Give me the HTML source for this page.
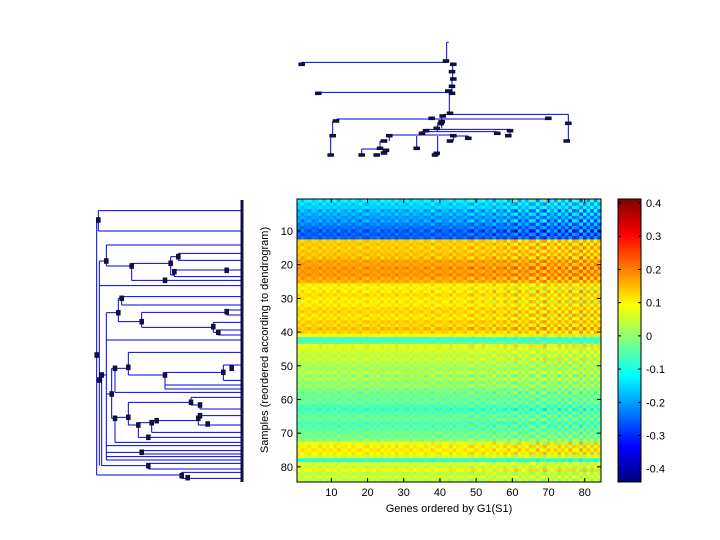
<!DOCTYPE html>
<html><head><meta charset="utf-8"><style>
body{margin:0;background:#fff;}
svg{display:block;font-family:"Liberation Sans",sans-serif;}
</style></head><body>
<svg id="c" width="720" height="540" viewBox="0 0 720 540">
<rect x="0" y="0" width="720" height="540" fill="#fff"/>
<g id="hm"></g>
<rect x="297" y="199" width="304" height="283" fill="none" stroke="#000" stroke-width="1"/>
<g id="xt"></g>
<g id="yt"></g>
<text x="449" y="512" font-size="11" text-anchor="middle">Genes ordered by G1(S1)</text>
<text transform="translate(268,340) rotate(-90)" font-size="11" text-anchor="middle">Samples (reordered according to dendrogram)</text>
<g id="cb"></g>
<g id="ld"></g>
<g id="td"></g>
</svg>
<script>
const NS="http://www.w3.org/2000/svg";
// ---- chart data ----
const rowValues=[-0.14,-0.15,-0.16,-0.18,-0.19,-0.2,-0.21,-0.22,-0.24,-0.25,-0.26,-0.25,
0.13,0.14,0.13,0.14,0.14,0.15,0.17,0.17,0.18,0.18,0.18,0.17,0.16,0.11,0.1,0.11,0.12,0.11,
0.1,0.11,0.12,0.13,0.11,0.12,0.13,0.13,0.14,0.13,0.08,-0.07,-0.06,0.09,0.06,0.05,0.04,0.05,
0.03,0.02,0.02,0.03,0.01,0.02,0.0,0.01,-0.01,-0.03,-0.02,-0.04,-0.03,-0.06,-0.07,-0.05,-0.04,-0.03,
-0.06,-0.05,-0.04,-0.03,-0.02,-0.01,0.08,0.1,0.11,0.1,0.06,-0.1,0.06,0.05,0.07,0.04,0.05,0.03];
const colOffsets=[0.02,-0.03,0.01,0.03,-0.02,0.0,0.04,-0.03,0.02,-0.01,0.03,-0.04,0.01,0.02,-0.02,0.03,
0.0,-0.03,0.02,0.04,-0.01,0.01,-0.03,0.03,0.0,0.02,-0.02,0.04,-0.01,0.01,0.03,-0.03,0.02,0.0,-0.02,0.03,
0.01,-0.04,0.02,0.03,-0.01,0.0,0.04,-0.03,0.02,0.01,-0.02,0.03,0.05,-0.03,0.01,0.04,-0.02,0.02,-0.05,0.03,
0.0,0.05,-0.04,0.03,0.06,-0.05,0.02,-0.03,0.05,0.04,-0.06,0.03,0.07,-0.05,0.02,-0.04,0.06,-0.03,0.04,-0.06,
0.05,0.03,-0.07,0.06,-0.04,0.05,-0.05,0.04];
const rowScale=[2,-1.5,1,-2,1.5,-1,2,-1.5,1,-2,1.5,-1,1,-1,1.5,-1,1,-1.5,1,-1,1.5,-1,1,-1.5,1,
-1,1,-1.5,1,-1,1.5,-1,1,-1,1.5,-1,1,-1,1.5,-1,1,-0.5,0.5,1,-1,1,-1,1.5,-1,1,-1,1,-1.5,1,-1,1,-1,1.5,
-1,1,-1,1,-1.5,1,-1,1,-1,1.5,-1,1,-1,1,-1.5,1,-1,1,-1,0.5,1,-1,1.5,-1,1,-1];
const xTicks=[10,20,30,40,50,60,70,80];
const yTicks=[10,20,30,40,50,60,70,80];
const cbTicks=[0.4,0.3,0.2,0.1,0,-0.1,-0.2,-0.3,-0.4];
// ---- scales ----
const X0=297,Y0=199,W=304,H=283,N=84,M=84;
const cw=W/N,ch=H/M;
const xs=k=>X0+(k-0.5)*cw, ys=k=>Y0+(k-0.5)*ch;
const vmin=-0.44,vmax=0.412;
function jet(v){let t=(v-vmin)/(vmax-vmin);t=Math.max(0,Math.min(1,t));
const c=x=>Math.round(255*Math.max(0,Math.min(1,1.5-Math.abs(x))));
return `rgb(${c(4*t-3)},${c(4*t-2)},${c(4*t-1)})`;}
function el(tag,attrs,parent){const e=document.createElementNS(NS,tag);for(const k in attrs)e.setAttribute(k,attrs[k]);parent.appendChild(e);return e;}
const hm=document.getElementById('hm');
for(let r=0;r<M;r++){for(let c=0;c<N;c++){
 const v=rowValues[r]+colOffsets[c]*rowScale[r]*0.55*(1+c/160);
 const e=el('rect',{x:(X0+c*cw).toFixed(2),y:(Y0+r*ch).toFixed(2),width:(cw+0.3).toFixed(2),height:(ch+0.3).toFixed(2),fill:jet(v)},hm);
 
 
}}
const xt=document.getElementById('xt');
xTicks.forEach(k=>{const x=xs(k);
 el('line',{x1:x,y1:Y0+H,x2:x,y2:Y0+H-4,stroke:'#000'},xt);
 el('line',{x1:x,y1:Y0,x2:x,y2:Y0+4,stroke:'#000'},xt);
 const t=el('text',{x:x,y:Y0+H+14,'font-size':11,'text-anchor':'middle'},xt);t.textContent=k;
 
 });
const yt=document.getElementById('yt');
yTicks.forEach(k=>{const y=ys(k);
 el('line',{x1:X0,y1:y,x2:X0+4,y2:y,stroke:'#000'},yt);
 el('line',{x1:X0+W,y1:y,x2:X0+W-4,y2:y,stroke:'#000'},yt);
 const t=el('text',{x:X0-4,y:y+4,'font-size':11,'text-anchor':'end'},yt);t.textContent=k;
 
 });
// colorbar
const cb=document.getElementById('cb');const CX=618,CW=23,CY=199,CH=283;
for(let i=0;i<CH;i++){const v=vmax-(i+0.5)/CH*(vmax-vmin);
 el('rect',{x:CX,y:CY+i,width:CW,height:1.2,fill:jet(v)},cb);}
el('rect',{x:CX,y:CY,width:CW,height:CH,fill:'none',stroke:'#000'},cb);
cbTicks.forEach(v=>{const y=CY+(vmax-v)/(vmax-vmin)*CH;
 el('line',{x1:CX,y1:y,x2:CX+3,y2:y,stroke:'#000'},cb);
 el('line',{x1:CX+CW,y1:y,x2:CX+CW-3,y2:y,stroke:'#000'},cb);
 const t=el('text',{x:CX+CW+5,y:y+4,'font-size':11},cb);t.textContent=(v===0?'0':v.toFixed(1));
 
 });
// left dendrogram (zoom coords -> original)
const ld=document.getElementById('ld');
const L=(x)=>85+x/3, Ly=(y)=>195+y/3;
const lsegs=[
['V',40,47,108],['H',40,470,47],['H',40,470,108],['V',35,75,840],['H',35,40,75],
['H',35,290,840],['V',290,832,850],['H',290,470,832],['H',290,470,850],
['V',43,198,812],['H',35,43,480],['H',43,470,272],
['V',64,150,213],['H',43,64,198],['H',64,470,150],['H',64,140,213],
['V',140,205,256],['H',140,470,256],['H',140,257,205],
['V',257,185,240],['H',257,280,185],['H',257,268,240],['V',268,225,245],['H',268,470,225],['H',268,470,245],
['V',280,175,196],['H',280,470,175],['H',280,470,196],
['H',43,50,555],['V',50,540,812],['H',50,190,812],['H',190,470,805],['H',190,470,822],['V',190,805,822],['H',50,64,540],
['V',64,353,795],['H',64,470,795],['H',64,470,435],['H',64,100,353],
['V',100,310,380],['H',100,110,310],['H',100,170,380],
['V',110,305,330],['H',110,470,305],['H',110,470,330],
['V',170,352,397],['H',170,425,352],['H',170,385,397],
['V',425,345,360],['H',425,470,345],['H',425,470,360],
['V',385,382,412],['H',385,470,382],['H',385,400,412],['V',400,405,420],['H',400,470,405],['H',400,470,420],
['H',64,80,597],['V',80,520,670],['H',80,90,520],['H',80,90,670],
['V',90,520,592],['H',90,130,520],['H',90,470,592],
['V',130,472,540],['H',130,470,472],['H',130,240,540],
['V',240,532,582],['H',240,415,532],['H',240,470,582],['H',240,470,570],
['V',415,510,556],['H',415,470,510],['H',415,470,556],
['V',90,670,742],['H',90,470,742],['H',90,130,667],
['V',130,622,690],['H',130,318,622],['H',130,160,690],
['V',318,607,630],['H',318,470,607],['H',345,470,642],['V',345,630,642],['H',318,345,630],
['V',160,683,727],['H',160,470,727],['H',160,200,683],
['V',200,677,712],['H',200,340,677],['H',200,470,712],
['V',340,662,690],['H',340,470,662],['H',340,470,690],
['H',64,470,752],['H',170,470,767],['H',170,470,777],['V',170,767,777],['H',64,170,772],['H',64,470,785]];
function drawSegs(segs,g,fx,fy,nm){segs.forEach(s=>{let a;
 if(s[0]==='H')a={x1:fx(s[1]),y1:fy(s[3]),x2:fx(s[2]),y2:fy(s[3])};
 else a={x1:fx(s[1]),y1:fy(s[2]),x2:fx(s[1]),y2:fy(s[3])};
 a.stroke='#0000ee';a['stroke-width']=1;const e=el('line',a,g);
 
 });}
drawSegs(lsegs,ld,L,Ly,'dendrogram-branch');
el('rect',{x:240.5,y:200,width:3,height:282,fill:'#101040'},ld);
const lmarks=[[40,75],[35,480],[43,555],[64,198],[140,213],[257,205],[280,185],[268,230],[240,256],[425,226],[100,353],[110,310],[170,380],[385,395],[400,412],[425,350],[50,540],[80,597],[90,520],[130,517],[240,540],[415,532],[440,520],[90,670],[130,667],[160,690],[200,683],[215,677],[340,670],[345,662],[368,687],[318,622],[345,630],[190,727],[170,772],[190,812],[290,842],[308,848]];
lmarks.forEach(m=>{const e=el('rect',{x:L(m[0])-2,y:Ly(m[1])-2.5,width:4,height:5,fill:'#101050',stroke:'#000','stroke-width':0.5},ld);
 
 });
// top dendrogram
const td=document.getElementById('td');
const T=(x)=>290+x/3, Ty=(y)=>35+y/3;
const tsegs=[['V',470,22,78],['H',470,476,22],['H',35,470,82],['V',35,82,88],['V',488,82,130],['V',486,130,175],
['H',85,475,172],['V',85,172,176],['V',478,175,235],['H',460,835,238],['V',835,238,318],
['H',140,770,252],['V',770,248,252],['V',128,258,300],['H',128,140,258],['V',122,300,360],['V',455,245,280],['V',442,270,290],
['H',410,660,283],['V',660,283,300],['H',395,620,290],['V',620,290,295],['H',298,490,300],['H',490,535,303],['V',490,300,318],['V',535,303,310],
['V',443,303,358],['V',380,303,340],['V',298,300,318],['V',270,318,340],['H',270,290,318],['H',215,270,342],['V',215,342,360],['V',283,345,358]];
drawSegs(tsegs,td,T,Ty,'dendrogram-branch');
const tmarks=[[468,78],[35,88],[490,88],[486,110],[490,132],[486,154],[475,168],[486,175],[85,175],[480,235],[458,243],[425,250],[775,250],[835,265],[138,258],[455,260],[452,266],[128,302],[122,360],[440,280],[408,287],[396,295],[622,295],[660,287],[655,302],[298,302],[490,302],[535,310],[480,318],[282,318],[380,340],[270,340],[288,346],[282,354],[260,360],[215,360],[440,355],[435,360],[830,318]];
tmarks.forEach(m=>{const e=el('rect',{x:T(m[0])-3,y:Ty(m[1])-1.5,width:6,height:3,fill:'#101050',stroke:'#000','stroke-width':0.5},td);
 
 });
</script>
</body></html>
